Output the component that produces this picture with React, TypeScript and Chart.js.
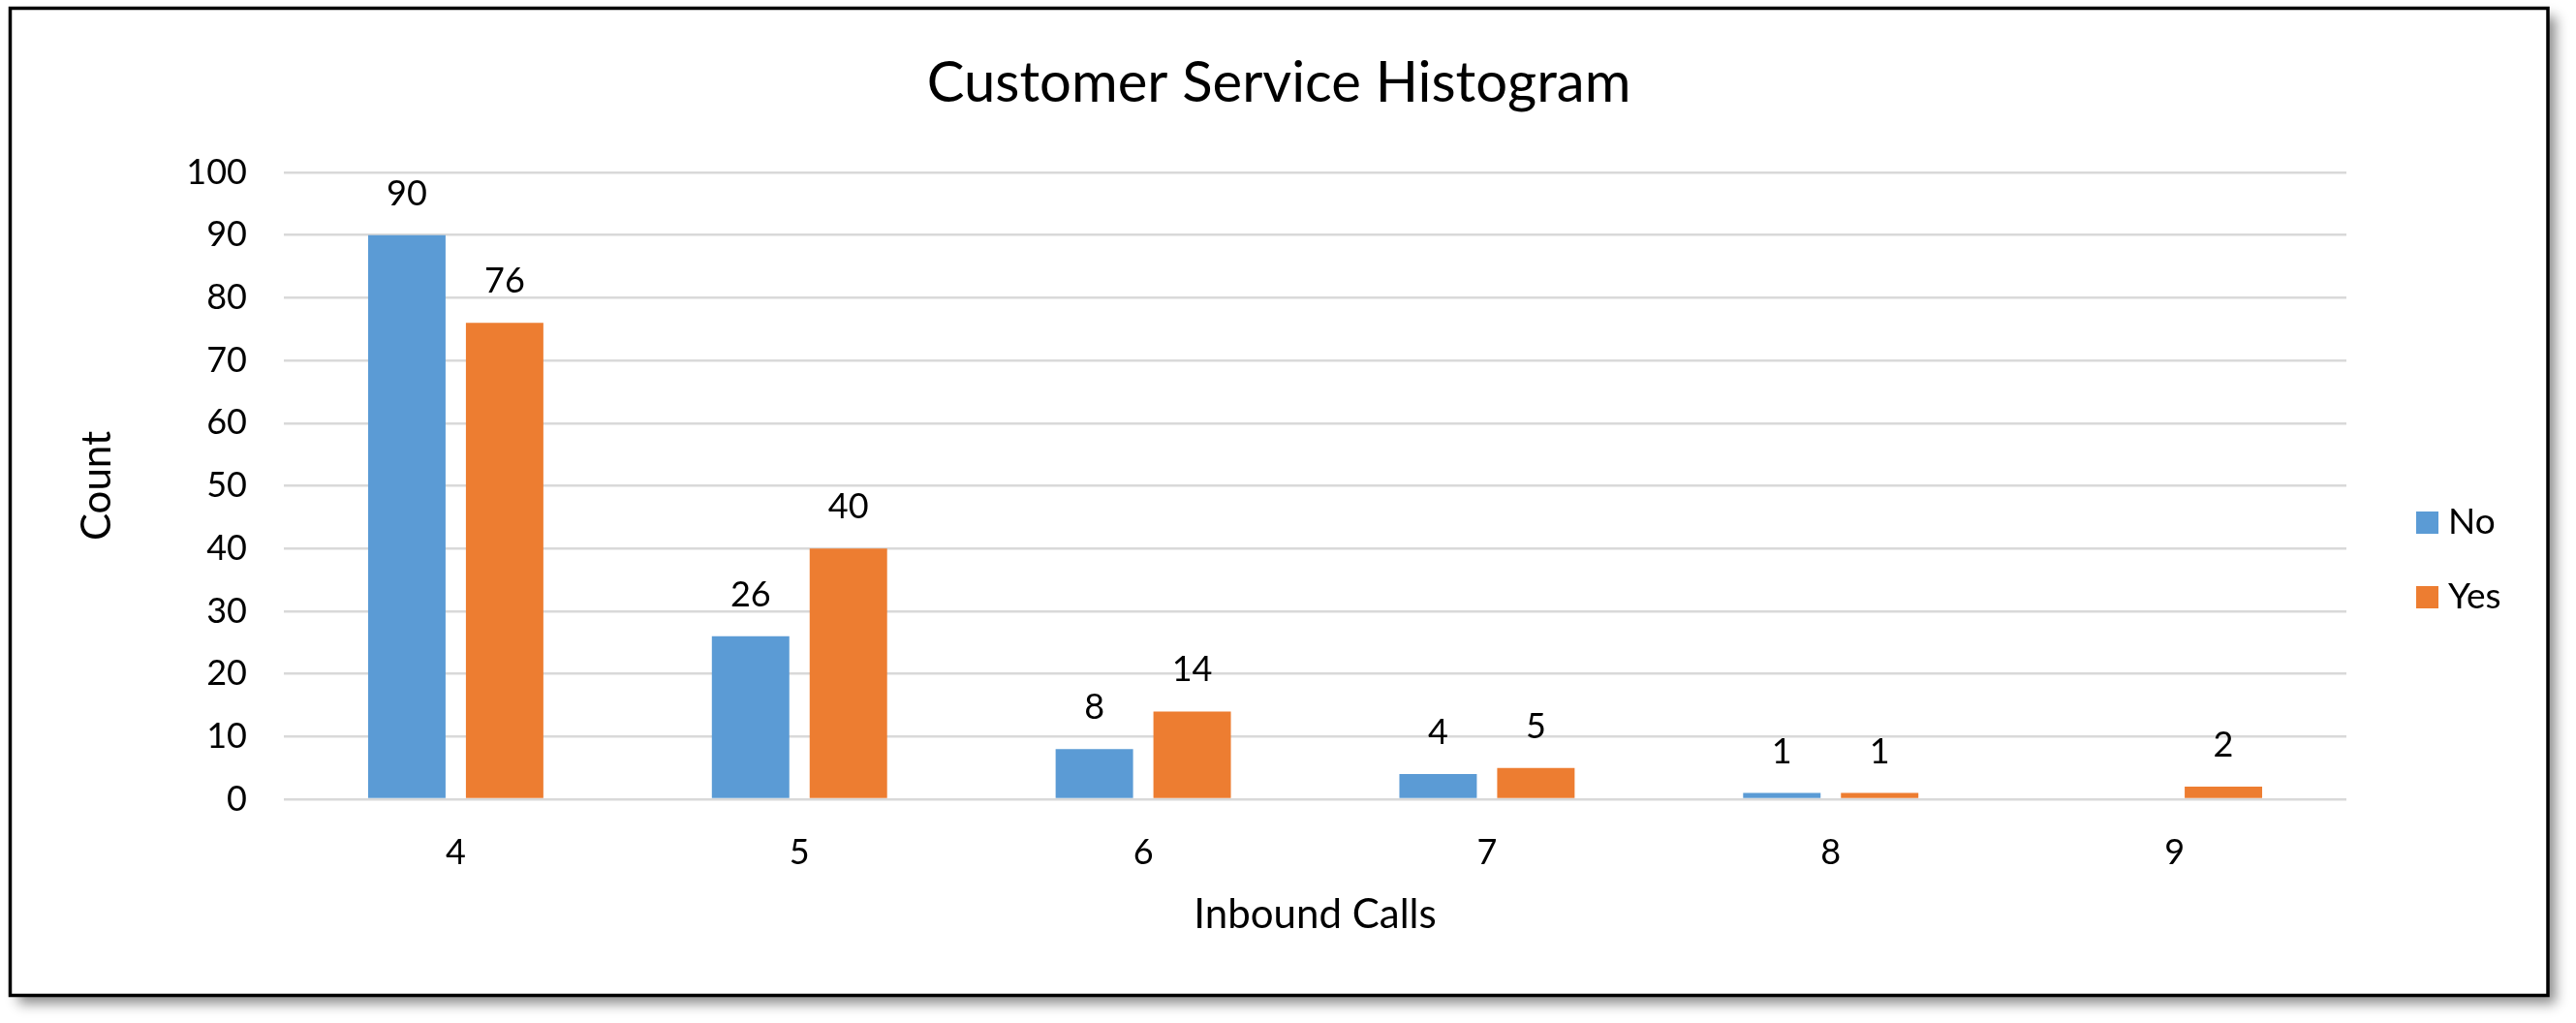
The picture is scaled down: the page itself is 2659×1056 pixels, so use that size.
import React, { useEffect, useRef } from "react";
import { Chart, registerables } from "chart.js";

Chart.register(...registerables);

const categories = ["4", "5", "6", "7", "8", "9"];
const noValues: (number | null)[] = [90, 26, 8, 4, 1, null];
const yesValues: (number | null)[] = [76, 40, 14, 5, 1, 2];
const seriesNames = ["No", "Yes"];
const seriesColors = ["#5B9BD5", "#ED7D31"];
const chartTitle = "Customer Service Histogram";
const xTitle = "Inbound Calls";
const yTitle = "Count";

const W = 2659;
const H = 1056;
const FONT = "Lato, 'Open Sans', sans-serif";

const framePlugin = {
  id: "frame",
  beforeDraw(chart: any) {
    const ctx = chart.ctx;
    ctx.save();
    ctx.fillStyle = "#ffffff";
    ctx.fillRect(0, 0, W, H);
    ctx.shadowColor = "rgba(0,0,0,0.45)";
    ctx.shadowBlur = 12;
    ctx.shadowOffsetX = 8;
    ctx.shadowOffsetY = 8;
    ctx.fillStyle = "#ffffff";
    ctx.fillRect(10.5, 8.5, 2619.5, 1019);
    ctx.restore();
    ctx.save();
    ctx.strokeStyle = "#000000";
    ctx.lineWidth = 3.5;
    ctx.strokeRect(10.5, 8.5, 2619.5, 1019);
    ctx.restore();
  },
};

const titlePlugin = {
  id: "centerTitle",
  afterDraw(chart: any) {
    const ctx = chart.ctx;
    ctx.save();
    ctx.font = `58px ${FONT}`;
    ctx.fillStyle = "#000000";
    ctx.textAlign = "center";
    ctx.textBaseline = "alphabetic";
    ctx.fillText(chartTitle, 1320, 105);
    ctx.restore();
  },
};

const labelPlugin = {
  id: "barLabels",
  afterDatasetsDraw(chart: any) {
    const ctx = chart.ctx;
    ctx.save();
    ctx.font = `36px ${FONT}`;
    ctx.fillStyle = "#000000";
    ctx.textAlign = "center";
    ctx.textBaseline = "alphabetic";
    chart.data.datasets.forEach((ds: any, di: number) => {
      const meta = chart.getDatasetMeta(di);
      meta.data.forEach((bar: any, i: number) => {
        const v = ds.data[i];
        if (v === null || v === undefined) return;
        ctx.fillText(String(v), bar.x, bar.y - 31);
      });
    });
    ctx.restore();
  },
};

const legendPlugin = {
  id: "sideLegend",
  afterDraw(chart: any) {
    const ctx = chart.ctx;
    ctx.save();
    ctx.font = `37px ${FONT}`;
    ctx.textAlign = "left";
    ctx.textBaseline = "alphabetic";
    chart.data.datasets.forEach((ds: any, i: number) => {
      const boxTop = 528 + i * 77;
      ctx.fillStyle = ds.backgroundColor;
      ctx.fillRect(2494, boxTop, 23, 23);
      ctx.fillStyle = "#000000";
      ctx.fillText(ds.label, 2527, boxTop + 23);
    });
    ctx.restore();
  },
};

export default function App() {
  const ref = useRef<HTMLCanvasElement | null>(null);
  useEffect(() => {
    if (!ref.current) return;
    const chart = new Chart(ref.current, {
      type: "bar",
      data: {
        labels: categories,
        datasets: [
          {
            label: seriesNames[0],
            data: noValues,
            backgroundColor: seriesColors[0],
            categoryPercentage: 0.569,
            barPercentage: 0.792,
          },
          {
            label: seriesNames[1],
            data: yesValues,
            backgroundColor: seriesColors[1],
            categoryPercentage: 0.569,
            barPercentage: 0.792,
          },
        ] as any,
      },
      options: {
        responsive: false,
        animation: false,
        devicePixelRatio: 1,
        layout: { padding: { top: 178, left: 60, right: 237, bottom: 31 } },
        plugins: {
          legend: { display: false },
          tooltip: { enabled: false },
          title: { display: false },
        },
        scales: {
          x: {
            grid: { display: false, drawTicks: false },
            border: { display: false },
            ticks: {
              color: "#000000",
              font: { family: FONT, size: 36 },
              padding: 34,
              maxRotation: 0,
            },
            title: {
              display: true,
              text: xTitle,
              color: "#000000",
              font: { family: FONT, size: 42 },
              padding: { top: 0, bottom: 55 },
            },
            afterFit(scale: any) {
              scale.height = 200;
            },
          },
          y: {
            min: 0,
            max: 100,
            grid: { color: "#D9D9D9", lineWidth: 2.5, drawTicks: false },
            border: { display: false },
            ticks: {
              stepSize: 10,
              color: "#000000",
              font: { family: FONT, size: 36 },
              padding: 38,
            },
            title: {
              display: true,
              text: yTitle,
              color: "#000000",
              font: { family: FONT, size: 42 },
              padding: { top: 15, bottom: 0 },
            },
            afterFit(scale: any) {
              scale.width = 233;
            },
          },
        },
      },
      plugins: [framePlugin, titlePlugin, labelPlugin, legendPlugin],
    });
    return () => chart.destroy();
  }, []);
  return (
    <div style={{ position: "absolute", left: 0, top: 0, width: W, height: H }}>
      <canvas ref={ref} width={W} height={H} style={{ display: "block", width: W, height: H }} />
    </div>
  );
}
